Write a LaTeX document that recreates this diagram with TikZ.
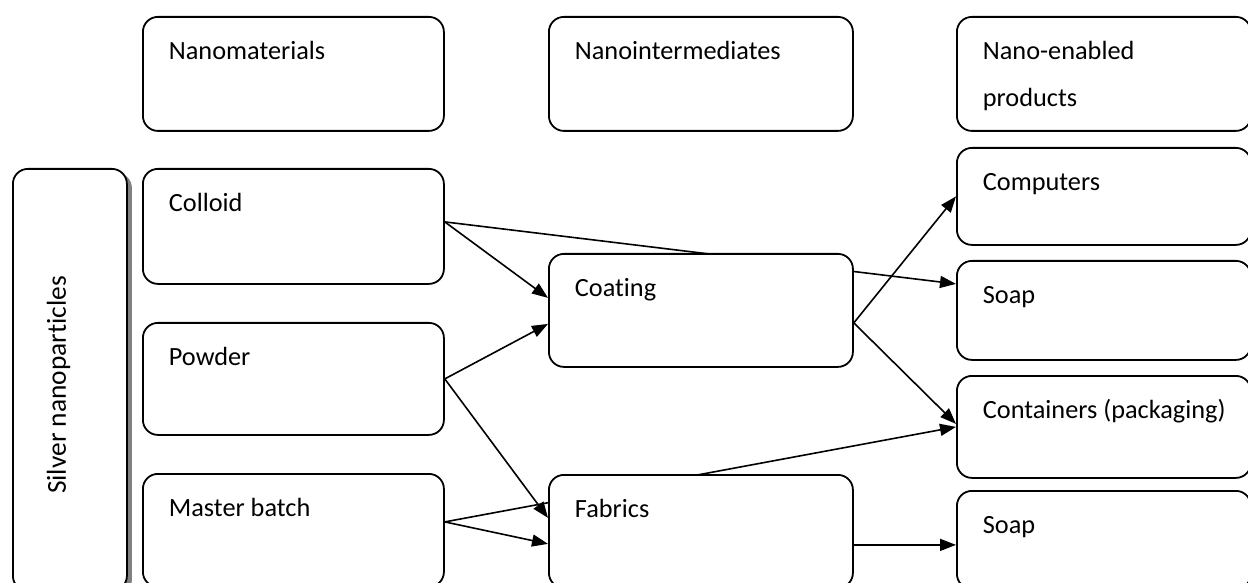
\documentclass[tikz,border=0pt]{standalone}
\usepackage{fontspec}
\setmainfont{Carlito}[Ligatures=NoCommon]
\usepackage{graphicx}
\usetikzlibrary{arrows.meta,shadows}
\pgfdeclarelayer{background}
\pgfsetlayers{background,main}
\tikzset{
  every node/.style={font=\fontsize{26.3bp}{47bp}\selectfont,
    execute at begin node={\spaceskip 0.226em\relax}},
  box/.style={draw, line width=1.8bp, rounded corners=15bp, fill=white, anchor=north west,
    inner xsep=26bp, inner ysep=0pt, text height=43bp, align=left},
  colL/.style={box, text width=249bp},
  colM/.style={box, text width=252bp},
  colR/.style={box, text width=242bp},
  conn/.style={line width=1.6bp, -{Triangle[length=16bp,width=12bp]}},
}
\begin{document}
\begin{tikzpicture}[x=1bp,y=-1bp]
\useasboundingbox (0,0) rectangle (1248,583);
% headers
\node[colL, text depth=71bp] (nanomat) at (142,16) {Nanomaterials};
\node[colM, text depth=71bp] (nanoint) at (548,16) {Nanointermediates};
\node[colR, text depth=71bp] (nanoprod) at (956,16) {Nano-enabled\\products};
% left vertical
\node[draw, line width=1.8bp, rounded corners=15bp, fill=white, anchor=north west, inner sep=0pt,
  minimum width=114bp, minimum height=422bp, text height=228bp, text depth=0pt,
  drop shadow={shadow xshift=5bp, shadow yshift=-4bp, fill=black!50, opacity=1}] (silver) at (12,168)
  {\makebox[114bp][l]{\hspace{34bp}\rotatebox{90}{\fontsize{27.4bp}{30bp}\selectfont\spaceskip 0.226em\relax Silver nanoparticles}}};
% nanomaterials
\node[colL, text depth=72bp] (colloid) at (142,168) {Colloid};
\node[colL, text depth=69bp] (powder) at (142,322) {Powder};
\node[colL, text depth=70bp] (master) at (142,473) {Master batch};
% intermediates
\node[colM, text depth=70bp] (coating) at (548,253) {Coating};
\node[colM, text depth=70bp] (fabrics) at (548,474) {Fabrics};
% products
\node[colR, text depth=54bp] (computers) at (956,147) {Computers};
\node[colR, text depth=56bp] (soap1) at (956,260) {Soap};
\node[colR, text depth=59bp] (containers) at (956,375) {\mbox{Containers (packaging)}};
\node[colR, text depth=55bp] (soap2) at (956,490) {Soap};
% connectors
\begin{pgfonlayer}{background}
\draw[conn] ([yshift=4.5bp]colloid.east) -- ([yshift=12.5bp]coating.west);
\draw[conn] ([yshift=4.5bp]colloid.east) -- ([yshift=26.5bp]soap1.west);
\draw[conn] (powder.east) -- ([yshift=-13.5bp]coating.west);
\draw[conn] (powder.east) -- ([yshift=13.5bp]fabrics.west);
\draw[conn] ([yshift=8.5bp]master.east) -- ([yshift=-12.5bp]fabrics.west);
\draw[conn] ([yshift=8.5bp]master.east) -- (containers.west);
\draw[conn] ([yshift=-12.5bp]coating.east) -- (computers.west);
\draw[conn] ([yshift=-12.5bp]coating.east) -- ([yshift=3bp]containers.west);
\draw[conn] ([yshift=-13.5bp]fabrics.east) -- ([yshift=-13.5bp]fabrics.east -| soap2.west);
\end{pgfonlayer}
\end{tikzpicture}
\end{document}
